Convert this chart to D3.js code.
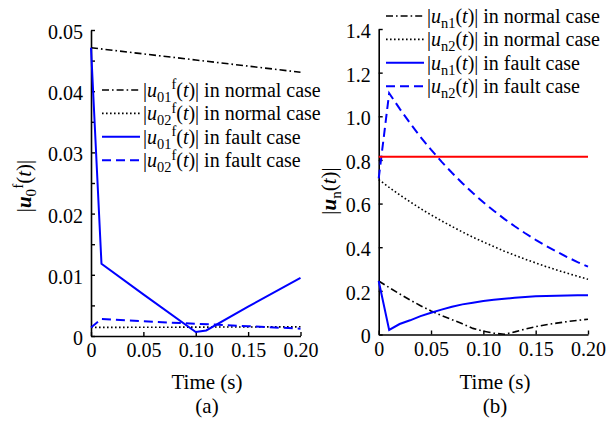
<!DOCTYPE html>
<html>
<head>
<meta charset="utf-8">
<script src="https://cdn.jsdelivr.net/npm/d3@7"></script>
<style>
  body { margin: 0; background: #fff; }
</style>
</head>
<body>
<svg id="chart" width="608" height="425" font-family="Liberation Serif"></svg>
<script>
// ---- panel (a) data ----
const u01NormalT = [0, 0.1, 0.2];
const u01Normal = [0.0471, 0.0451, 0.0431];
const u02NormalT = [0, 0.1, 0.2];
const u02Normal = [0.0014, 0.00145, 0.0015];
const u01FaultT = [0, 0.01, 0.05, 0.1, 0.11, 0.15, 0.2];
const u01Fault = [0.0471, 0.0118, 0.0068, 0.00065, 0.0009, 0.0048, 0.0095];
const u02FaultT = [0, 0.01, 0.05, 0.1, 0.15, 0.2];
const u02Fault = [0.0014, 0.0028, 0.0024, 0.0020, 0.0016, 0.0012];

// ---- panel (b) data ----
const timeB = [0, 0.01, 0.02, 0.03, 0.04, 0.05, 0.06, 0.07, 0.08, 0.09, 0.10,
               0.11, 0.12, 0.13, 0.14, 0.15, 0.16, 0.17, 0.18, 0.19, 0.20];
const un1Normal = [0.245, 0.215, 0.186, 0.158, 0.132, 0.108, 0.087, 0.068, 0.049, 0.028, 0.015,
                   0.006, 0.001, 0.012, 0.025, 0.036, 0.045, 0.052, 0.059, 0.065, 0.070];
const un2Normal = [0.71, 0.674, 0.640, 0.608, 0.577, 0.548, 0.521, 0.495, 0.470, 0.446, 0.424,
                   0.403, 0.382, 0.363, 0.345, 0.328, 0.311, 0.296, 0.281, 0.267, 0.253];
const un1Fault = [0.245, 0.021, 0.048, 0.065, 0.084, 0.100, 0.114, 0.127, 0.138, 0.146, 0.153,
                  0.159, 0.164, 0.168, 0.172, 0.175, 0.177, 0.178, 0.179, 0.180, 0.180];
const un2Fault = [0.715, 1.106, 1.035, 0.968, 0.905, 0.847, 0.792, 0.741, 0.693, 0.648, 0.606,
                  0.567, 0.530, 0.496, 0.464, 0.434, 0.406, 0.380, 0.355, 0.332, 0.311];
const thresholdB = 0.815;

// ---- ticks ----
const xTicks = [0, 0.05, 0.10, 0.15, 0.20];
const xTickLabels = ['0', '0.05', '0.10', '0.15', '0.20'];
const yTicksA = [0, 0.01, 0.02, 0.03, 0.04, 0.05];
const yTickLabelsA = ['0', '0.01', '0.02', '0.03', '0.04', '0.05'];
const yMinorA = [0.005, 0.015, 0.025, 0.035, 0.045];
const yTicksB = [0, 0.2, 0.4, 0.6, 0.8, 1.0, 1.2, 1.4];
const yTickLabelsB = ['0', '0.2', '0.4', '0.6', '0.8', '1.0', '1.2', '1.4'];

const FONT = 'Liberation Serif';

const styles = {
  dashdot: { stroke: '#000', width: 1.6, dash: '7,3,1.6,3' },
  dotted: { stroke: '#000', width: 1.6, dash: '1.6,2.4' },
  solid: { stroke: '#0000ff', width: 2, dash: null },
  dashed: { stroke: '#0000ff', width: 2, dash: '9,5' }
};

const svg = d3.select('#chart');

const xA = d3.scaleLinear().domain([0, 0.2]).range([91, 300.5]);
const yA = d3.scaleLinear().domain([0, 0.05]).range([336, 30]);
const xB = d3.scaleLinear().domain([0, 0.2]).range([378.7, 588]);
const yB = d3.scaleLinear().domain([0, 1.4]).range([334.5, 29]);

// rich text: segments with italic / bold / sub / sup
function richText(sel, segs, size) {
  let shift = 0;
  segs.forEach(s => {
    let target = 0;
    let fs = size;
    if (s.sub) { target = size * 0.25; fs = size * 0.72; }
    if (s.sup) { target = -size * 0.38; fs = size * 0.72; }
    const ts = sel.append('tspan')
      .attr('dy', target - shift)
      .attr('font-family', FONT)
      .attr('font-size', fs)
      .text(s.t);
    if (s.i) ts.attr('font-style', 'italic');
    if (s.b) ts.attr('font-weight', 'bold');
    shift = target;
  });
}

function drawPanel(g, x, y, yTicks, yLabels, yMinor, series, legend, legendPos, title, caption, titlePos, capX) {
  // axes
  const xAxis = g.append('g').attr('transform', 'translate(0,' + y(0) + ')')
    .call(d3.axisBottom(x).tickValues(xTicks).tickFormat((d, i) => xTickLabels[i]).tickSizeInner(-4).tickSizeOuter(0));
  xAxis.attr('font-family', FONT).attr('font-size', 20);
  xAxis.select('.domain').attr('stroke-width', 1.6);
  xAxis.selectAll('.tick line').attr('stroke-width', 1.4);
  xAxis.selectAll('.tick text').attr('y', 7).attr('font-family', FONT).attr('font-size', 20);

  const yAxis = g.append('g').attr('transform', 'translate(' + x(0) + ',0)')
    .call(d3.axisLeft(y).tickValues(yTicks.concat(yMinor))
      .tickFormat(d => { const k = yTicks.indexOf(d); return k >= 0 ? yLabels[k] : ''; })
      .tickSizeInner(-4).tickSizeOuter(0));
  yAxis.attr('font-family', FONT).attr('font-size', 20);
  yAxis.select('.domain').attr('stroke-width', 1.6);
  yAxis.selectAll('.tick line').attr('stroke-width', 1.4);
  yAxis.selectAll('.tick text').attr('x', -8).attr('dy', '0.42em').attr('font-family', FONT).attr('font-size', 20);

  // series
  const line = d3.line().x(d => x(d[0])).y(d => y(d[1]));
  series.forEach(s => {
    const st = styles[s.style];
    g.append('path')
      .datum(s.t.map((t, i) => [t, s.v[i]]))
      .attr('d', line)
      .attr('fill', 'none')
      .attr('stroke', s.color || st.stroke)
      .attr('stroke-width', st.width)
      .attr('stroke-dasharray', st.dash);
  });

  // legend
  legend.forEach((l, i) => {
    const st = styles[l.style];
    const cy = legendPos.y + i * 23.4;
    g.append('line')
      .attr('x1', legendPos.x).attr('x2', legendPos.x + 38)
      .attr('y1', cy).attr('y2', cy)
      .attr('stroke', st.stroke).attr('stroke-width', st.width)
      .attr('stroke-dasharray', st.dash);
    const t = g.append('text').attr('x', legendPos.x + 41).attr('y', cy + 7)
      .attr('font-family', FONT).attr('font-size', 20);
    richText(t, l.segs, 20);
  });

  // y title
  const yt = g.append('text')
    .attr('transform', 'translate(' + titlePos.x + ',' + titlePos.y + ') rotate(-90)')
    .attr('text-anchor', 'middle').attr('font-family', FONT).attr('font-size', 21);
  richText(yt, title, 21);

  g.append('text').attr('x', capX).attr('y', 389).attr('text-anchor', 'middle')
    .attr('font-family', FONT).attr('font-size', 21).text('Time (s)');
  g.append('text').attr('x', capX).attr('y', 413).attr('text-anchor', 'middle')
    .attr('font-family', FONT).attr('font-size', 21).text(caption);
}

function seg(sub, sup, tail) {
  const s = [{ t: '|' }, { t: 'u', i: true }, { t: sub, sub: true }];
  if (sup) s.push({ t: sup, sup: true });
  s.push({ t: '(' }, { t: 't', i: true }, { t: ')| ' + tail });
  return s;
}

const gA = svg.append('g');
drawPanel(gA, xA, yA, yTicksA, yTickLabelsA, yMinorA,
  [
    { t: u01NormalT, v: u01Normal, style: 'dashdot' },
    { t: u02NormalT, v: u02Normal, style: 'dotted' },
    { t: u01FaultT, v: u01Fault, style: 'solid' },
    { t: u02FaultT, v: u02Fault, style: 'dashed' }
  ],
  [
    { style: 'dashdot', segs: seg('01', 'f', 'in normal case') },
    { style: 'dotted', segs: seg('02', 'f', 'in normal case') },
    { style: 'solid', segs: seg('01', 'f', 'in fault case') },
    { style: 'dashed', segs: seg('02', 'f', 'in fault case') }
  ],
  { x: 102, y: 90 },
  [{ t: '|' }, { t: 'u', i: true, b: true }, { t: '0', sub: true }, { t: 'f', sup: true }, { t: '(' }, { t: 't', i: true }, { t: ')|' }],
  '(a)', { x: 31, y: 186 }, 207);

const gB = svg.append('g');
drawPanel(gB, xB, yB, yTicksB, yTickLabelsB, [],
  [
    { t: timeB, v: un1Normal, style: 'dashdot' },
    { t: timeB, v: un2Normal, style: 'dotted' },
    { t: timeB, v: un1Fault, style: 'solid' },
    { t: timeB, v: un2Fault, style: 'dashed' },
    { t: [0, 0.2], v: [thresholdB, thresholdB], style: 'solid', color: '#ff0000' }
  ],
  [
    { style: 'dashdot', segs: seg('n1', null, 'in normal case') },
    { style: 'dotted', segs: seg('n2', null, 'in normal case') },
    { style: 'solid', segs: seg('n1', null, 'in fault case') },
    { style: 'dashed', segs: seg('n2', null, 'in fault case') }
  ],
  { x: 386, y: 16 },
  [{ t: '|' }, { t: 'u', i: true, b: true }, { t: 'n', sub: true }, { t: '(' }, { t: 't', i: true }, { t: ')|' }],
  '(b)', { x: 336, y: 191 }, 495);
</script>
</body>
</html>
